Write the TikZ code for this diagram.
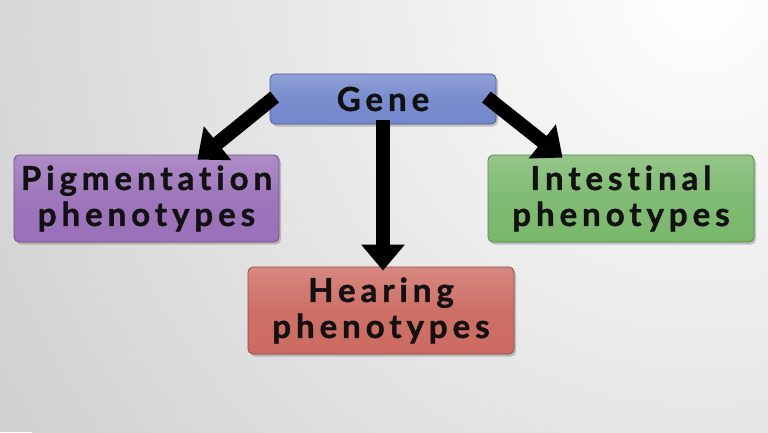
\documentclass[tikz,border=0pt]{standalone}
\usepackage{fontspec}
\setmainfont{Lato}[UprightFont=* Bold, LetterSpace=15, Ligatures=NoCommon, FakeBold=1.2]
\usetikzlibrary{arrows.meta,shadows,calc}
\definecolor{cgene}{HTML}{7388CC}
\definecolor{cpig}{HTML}{9A70B8}
\definecolor{cint}{HTML}{7AB86C}
\definecolor{chear}{HTML}{CC6A60}
\definecolor{txt}{HTML}{111111}
\tikzset{
  box/.style={rounded corners=5pt, draw=#1!70!black, line width=0.8pt,
    top color=#1!80!white, bottom color=#1, middle color=#1!96!white,
    drop shadow={shadow xshift=2pt, shadow yshift=-2.5pt, opacity=0.35, fill=black!60},
    align=center, inner sep=0pt, text=txt, font=\fontsize{33}{36}\selectfont},
  conn/.style={line width=14pt, -{Triangle[length=26pt,width=42pt]}, black},
}
\begin{document}
\begin{tikzpicture}[x=1pt,y=1pt]
  \useasboundingbox (0,0) rectangle (768,432);
  \begin{scope}
    \clip (0,0) rectangle (768,432);
    \fill[black!18] (0,0) rectangle (768,432);
    \shade[inner color=white, outer color=black!18] (700,440) circle (800);
  \end{scope}
  \node[box=cgene, minimum width=226pt, minimum height=50pt] (gene) at (383,333) {Gene};
  \node[box=cpig, minimum width=265pt, minimum height=87pt] (pig) at (146.5,233.5) {Pigmentation\\phenotypes};
  \node[box=cint, minimum width=266pt, minimum height=87pt] (int) at (621,233.5) {Intestinal\\phenotypes};
  \node[box=chear, minimum width=266pt, minimum height=87pt] (hear) at (381,121.5) {Hearing\\phenotypes};
  \coordinate (lstart) at ($(gene.west)+(5,2)$);
  \coordinate (lend) at ($(pig.north east)+(-82,-5)$);
  \coordinate (rstart) at ($(gene.east)+(-10,2)$);
  \coordinate (rend) at ($(int.north west)+(75,-3)$);
  \coordinate (cstart) at ($(gene.south)+(0,4)$);
  \coordinate (cend) at ($(hear.north)+(2,-4)$);
  \draw[conn] (lstart) -- (lend);
  \draw[conn] (rstart) -- (rend);
  \draw[conn] (cstart) -- (cend);
\end{tikzpicture}
\end{document}
